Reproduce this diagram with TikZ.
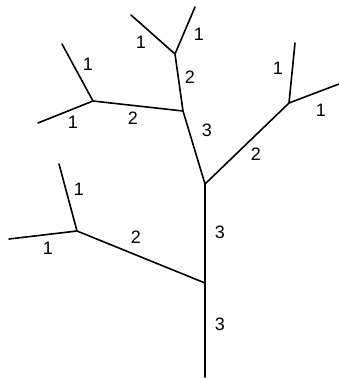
\documentclass[tikz,border=0pt]{standalone}
\usepackage{fontspec}
\setmainfont{Liberation Sans}
\begin{document}
\begin{tikzpicture}[x=1pt,y=-1pt]
    % --- styles ---
    \tikzset{branch/.style={line width=1.6pt,line cap=round},
             wt/.style={font=\fontsize{18}{20}\selectfont,inner sep=0pt}}
    \useasboundingbox (0,0) rectangle (339,378);

    % junctions and leaves
    \coordinate (root) at (205,377);
    \coordinate (A) at (205,283);
    \coordinate (B) at (205,184);
    \coordinate (L) at (77,231);
    \coordinate (L1) at (59,164);
    \coordinate (L2) at (9,239);
    \coordinate (C) at (183,111);
    \coordinate (D) at (289,103);
    \coordinate (D1) at (295,43);
    \coordinate (D2) at (339,84);
    \coordinate (E) at (175,54);
    \coordinate (E1) at (195,7);
    \coordinate (E2) at (131,15);
    \coordinate (F) at (93,101);
    \coordinate (F1) at (62,44);
    \coordinate (F2) at (38,123);

    % edges
    \draw[branch] (root) -- (A) -- (B);
    \draw[branch] (A) -- (L);
    \draw[branch] (L1) -- (L) -- (L2);
    \draw[branch] (B) -- (C);
    \draw[branch] (B) -- (D);
    \draw[branch] (D1) -- (D) -- (D2);
    \draw[branch] (C) -- (E);
    \draw[branch] (E1) -- (E) -- (E2);
    \draw[branch] (C) -- (F);
    \draw[branch] (F1) -- (F) -- (F2);

    % edge weights
    \node[wt] (wRA) at (220,324) {3};
    \node[wt] (wAB) at (220,232) {3};
    \node[wt] (wAL) at (136,237) {2};
    \node[wt] (wL1) at (79,189) {1};
    \node[wt] (wL2) at (48,248) {1};
    \node[wt] (wBC) at (207,130) {3};
    \node[wt] (wBD) at (256,154) {2};
    \node[wt] (wD1) at (278,68) {1};
    \node[wt] (wD2) at (321,110) {1};
    \node[wt] (wCE) at (190,77) {2};
    \node[wt] (wE1) at (199,34) {1};
    \node[wt] (wE2) at (141,42) {1};
    \node[wt] (wCF) at (133,118) {2};
    \node[wt] (wF1) at (88,64) {1};
    \node[wt] (wF2) at (73,122) {1};
  \end{tikzpicture}
\end{document}
